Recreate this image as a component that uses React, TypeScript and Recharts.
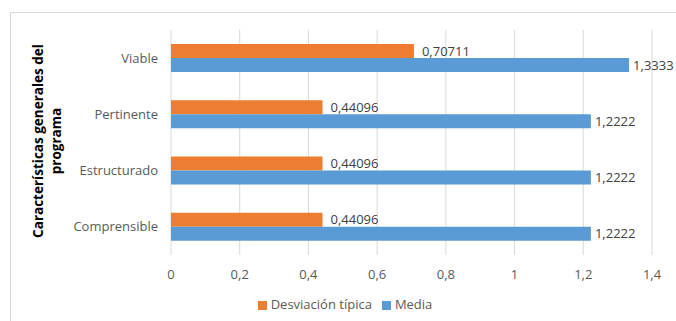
import React from "react";
import { BarChart, Bar, XAxis, YAxis, CartesianGrid, Legend, LabelList } from "recharts";

const categories = ["Viable", "Pertinente", "Estructurado", "Comprensible"];
const desviacion = [0.70711, 0.44096, 0.44096, 0.44096];
const media = [1.3333, 1.2222, 1.2222, 1.2222];
const xTicks = [0, 0.2, 0.4, 0.6, 0.8, 1, 1.2, 1.4];

const data = categories.map((name, i) => ({
  name,
  desviacion: desviacion[i],
  media: media[i],
}));

const font = "'Open Sans', 'Noto Sans', sans-serif";
const comma = (v: number | string) => String(v).replace(".", ",");

const AxisTitle = () => (
  <text
    transform="translate(43, 141) rotate(-90)"
    textAnchor="middle"
    fontFamily={font}
    fontWeight="bold"
    fontSize={13.5}
    fill="#000"
  >
    <tspan x={0} dy={0}>Características  generales del</tspan>
    <tspan x={0} dy={18}>programa</tspan>
  </text>
);

export default function App() {
  return (
    <div style={{ position: "absolute", left: 0, top: 0, width: 676, height: 321, overflow: "hidden", background: "#fff" }}>
      <div style={{ position: "absolute", left: 10, top: 12, width: 720, height: 400, border: "1px solid #d9d9d9" }} />
      <div style={{ position: "absolute", left: 0, top: 0 }}>
        <BarChart
          width={676}
          height={321}
          data={data}
          layout="vertical"
          margin={{ top: 30, right: 24, left: 0, bottom: 8 }}
          barGap={0}
          barSize={14}
        >
          <CartesianGrid horizontal={false} stroke="#d9d9d9" />
          <XAxis
            type="number"
            domain={[0, 1.4]}
            ticks={xTicks}
            tickFormatter={comma}
            axisLine={false}
            tickLine={false}
            tickSize={0}
            tickMargin={15}
            height={40}
            tick={{ fill: "#595959", fontSize: 13, fontFamily: font }}
          />
          <YAxis
            type="category"
            dataKey="name"
            width={171}
            axisLine={false}
            tickLine={false}
            tickSize={0}
            tickMargin={13}
            tick={{ fill: "#595959", fontSize: 13, fontFamily: font }}
            label={{ content: () => <AxisTitle /> }}
          />
          <Legend
            verticalAlign="bottom"
            iconType="square"
            iconSize={9}
            wrapperStyle={{ fontFamily: font, fontSize: 13, color: "#595959", left: 24 }}
            formatter={(v) => <span style={{ color: "#595959" }}>{v}</span>}
          />
          <Bar dataKey="desviacion" name="Desviación típica" fill="#ED7D31" isAnimationActive={false}>
            <LabelList dataKey="desviacion" position="right" offset={8} formatter={comma} fill="#404040" fontSize={13} fontFamily={font} />
          </Bar>
          <Bar dataKey="media" name="Media" fill="#5B9BD5" isAnimationActive={false}>
            <LabelList dataKey="media" position="right" offset={4} formatter={comma} fill="#404040" fontSize={13} fontFamily={font} />
          </Bar>
        </BarChart>
      </div>
    </div>
  );
}
